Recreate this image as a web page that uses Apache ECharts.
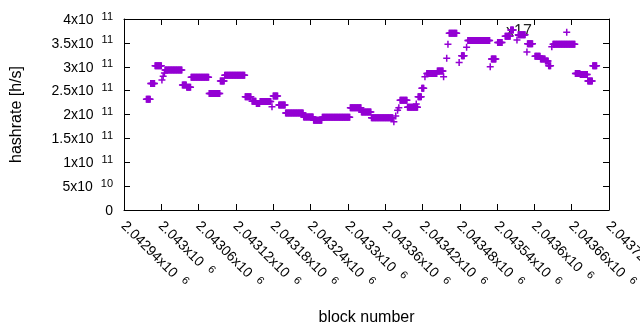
<!DOCTYPE html>
<html>
<head>
	<meta http-equiv="Content-Type" content="text/html; charset=utf-8" />
	<title>hashrate</title>
	<style>
		html,body{margin:0;padding:0;background:#fff;}
		#main{width:640px;height:330px;}
	</style>
</head>
<body>
	<div id="main"></div>
	<script src="https://cdn.jsdelivr.net/npm/echarts@6/dist/echarts.min.js"></script>
	<script type="text/javascript">
		// block numbers are offsets from firstBlock, hashrate in 1e9 h/s
		var firstBlock = 2042940;
		var runFrom = [36, 43, 50, 61, 63, 65, 66, 94, 101, 108, 137, 155, 162, 195, 206, 213, 219, 238, 240, 249,
			260, 289, 305, 319, 364, 382, 398, 434, 437, 440, 442, 444, 456, 470, 473, 479, 484, 487, 504, 514,
			519, 521, 523, 539, 543, 551, 553, 589, 591, 601, 613, 622, 632, 634, 648, 649, 661, 670, 678, 683,
			688, 690, 712, 726, 734, 746, 754];
		var runTo = [42, 49, 60, 61, 63, 65, 93, 100, 107, 136, 154, 161, 194, 204, 212, 218, 236, 238, 247, 259,
			288, 304, 318, 363, 381, 397, 432, 434, 437, 440, 442, 455, 472, 470, 478, 482, 484, 503, 513, 514,
			519, 521, 535, 539, 547, 551, 588, 589, 598, 608, 621, 626, 632, 645, 648, 657, 669, 677, 682, 686,
			688, 725, 712, 733, 745, 753, 760];
		var runHash = [232, 265, 302, 272, 280, 287, 293, 262, 257, 278, 244, 270, 282, 237, 228, 223, 227, 216, 239, 220,
			203, 195, 188, 194, 214, 205, 193, 185, 197, 209, 214, 230, 215, 222, 237, 255, 279, 286, 291, 279,
			318, 347, 370, 309, 323, 341, 355, 300, 316, 351, 364, 377, 356, 367, 331, 348, 322, 316, 312, 302,
			342, 347, 372, 286, 284, 270, 302];

		var xTickLabels = ['2.04294x10^6', '2.043x10^6', '2.04306x10^6', '2.04312x10^6', '2.04318x10^6', '2.04324x10^6',
			'2.0433x10^6', '2.04336x10^6', '2.04342x10^6', '2.04348x10^6', '2.04354x10^6', '2.0436x10^6',
			'2.04366x10^6', '2.04372x10^6'];
		var yTickLabels = ['0', '5x10^10', '1x10^11', '1.5x10^11', '2x10^11', '2.5x10^11', '3x10^11', '3.5x10^11', '4x10^11'];

		var xMin = 2042940, xMax = 2043720, xStep = 60;
		var yMax = 4e11, yStep = 5e10;

		var points = [];
		for (var i = 0; i < runFrom.length; i++) {
			for (var b = runFrom[i]; b <= runTo[i]; b++) {
				points.push([firstBlock + b, runHash[i] * 1e9]);
			}
		}

		function toRich(s) {
			if (s === undefined) return '';
			var p = s.split('^');
			return p.length > 1 ? '{m|' + p[0] + '}{e|' + p[1] + '}' : '{m|' + p[0] + '}';
		}

		var font = '"Liberation Sans", Arial, sans-serif';
		var rich = {
			m: {fontSize: 14, fontFamily: font, color: '#000', lineHeight: 16, verticalAlign: 'bottom'},
			e: {fontSize: 11, fontFamily: font, color: '#000', lineHeight: 10, verticalAlign: 'top', padding: [0, 0, 0, 8]}
		};
		var plus = 'path://M5.5,0H8.5V5.5H14V8.5H8.5V14H5.5V8.5H0V5.5H5.5Z';

		var myChart = echarts.init(document.getElementById('main'));
		myChart.setOption({
			animation: false,
			grid: {left: 124, right: 31, top: 19, bottom: 120, containLabel: false, outerBoundsMode: 'none'},
			xAxis: [{
				type: 'value', min: xMin, max: xMax, interval: xStep,
				name: 'block number', nameLocation: 'middle', nameGap: 100,
				nameTextStyle: {fontSize: 16, fontFamily: font, color: '#000'},
				axisLine: {show: true, onZero: false, lineStyle: {color: '#000', width: 1}},
				axisTick: {show: true, inside: true, length: 6, lineStyle: {color: '#000'}},
				axisLabel: {
					rotate: -45, margin: 13, showMinLabel: true, showMaxLabel: true,
					formatter: function (v) { return toRich(xTickLabels[Math.round((v - xMin) / xStep)]); },
					rich: rich
				},
				splitLine: {show: false}
			}, {
				type: 'value', position: 'top', min: xMin, max: xMax, interval: xStep,
				axisLine: {show: true, onZero: false, lineStyle: {color: '#000', width: 1}},
				axisTick: {show: true, inside: true, length: 6, lineStyle: {color: '#000'}},
				axisLabel: {show: false},
				splitLine: {show: false}
			}],
			yAxis: [{
				type: 'value', min: 0, max: yMax, interval: yStep,
				name: 'hashrate [h/s]', nameLocation: 'middle', nameGap: 99, nameRotate: 90,
				nameTextStyle: {fontSize: 16, fontFamily: font, color: '#000'},
				axisLine: {show: true, lineStyle: {color: '#000', width: 1}},
				axisTick: {show: true, inside: true, length: 6, lineStyle: {color: '#000'}},
				axisLabel: {
					margin: 11, showMinLabel: true, showMaxLabel: true,
					formatter: function (v) { return toRich(yTickLabels[Math.round(v / yStep)]); },
					rich: rich
				},
				splitLine: {show: false}
			}, {
				type: 'value', position: 'right', min: 0, max: yMax, interval: yStep,
				axisLine: {show: true, lineStyle: {color: '#000', width: 1}},
				axisTick: {show: true, inside: true, length: 6, lineStyle: {color: '#000'}},
				axisLabel: {show: false},
				splitLine: {show: false}
			}],
			graphic: [{
				type: 'text', left: 506, top: 24, z: 1,
				style: {text: 'x17', fontSize: 16, fontFamily: font, fill: '#222'}
			}],
			series: [{
				type: 'scatter',
				data: points,
				symbol: plus,
				symbolSize: 7,
				itemStyle: {color: '#9400d3', opacity: 1},
				large: false,
				z: 3
			}]
		});
	</script>
</body>
</html>
